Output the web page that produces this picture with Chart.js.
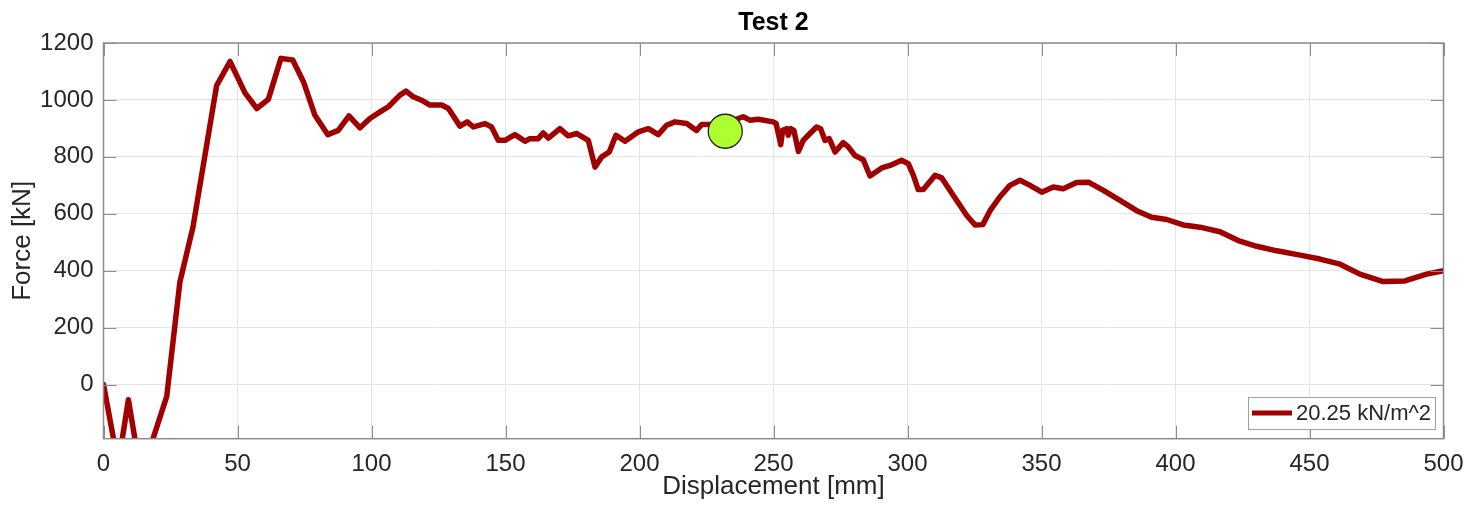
<!DOCTYPE html>
<html>
<head>
<meta charset="utf-8">
<script src="https://cdn.jsdelivr.net/npm/chart.js@4"></script>
<style>
  body { margin: 0; background: #ffffff; }
  #wrap { width: 1470px; height: 513px; }
</style>
</head>
<body>
<div id="wrap"><canvas id="forceChart" width="1470" height="513"></canvas></div>
<script>
// Data
const displacement = [
  0, 5.5, 9.3, 14, 23.6, 28.5, 33.4, 42.2, 47.2, 52.8,
  57.2, 61.5, 66.2, 70.6, 74.6, 78.9, 83.7, 87.6, 91.6, 95.7,
  99.4, 103.2, 106.3, 110.6, 112.9, 115.6, 118.7, 121.8, 126.2, 128.7,
  133, 135.7, 138, 142.4, 144.8, 147.3, 149.8, 153.5, 157.3, 159.1,
  162.2, 164.1, 166, 168.5, 170.3, 173.4, 176.6, 180.9, 183.4, 185.9,
  188.7, 191.2, 194.6, 199.6, 203.3, 207, 210.1, 213.2, 217.6, 221.3,
  223.2, 228, 234, 238.7, 241.2, 244.3, 249.9, 251, 252.7, 253.4,
  254.9, 255.5, 256.4, 257.6, 259.3, 261.1, 263.6, 266.1, 267.6, 269.2,
  270.8, 273, 276, 277.9, 280.4, 283.5, 286, 290.4, 293.5, 297.8,
  300.3, 302.2, 304, 305.9, 310.3, 312.8, 317.1, 322.1, 325.2, 328.1,
  330.8, 334.5, 338.2, 342, 345.7, 350.1, 354.4, 358.1, 363.1, 367.5,
  373.1, 379.3, 385.5, 391.1, 396.7, 402.9, 409.1, 416.6, 423.4, 430.3,
  437.8, 446.5, 453.9, 461.4, 468.8, 477.5, 485.6, 493.7, 500
];
const force = [
  0, -280, -53, -320, -41, 360, 554, 1050, 1135, 1025,
  970, 1002, 1146, 1140, 1064, 946, 878, 893, 944, 902,
  935, 958, 976, 1017, 1031, 1011, 999, 982, 982, 970,
  908, 923, 905, 917, 905, 858, 858, 878, 855, 864,
  864, 884, 866, 885, 899, 874, 882, 858, 764, 800,
  817, 876, 855, 888, 899, 878, 911, 923, 917, 893,
  914, 915, 925, 941, 929, 932, 923, 917, 843, 893,
  899, 876, 899, 893, 819, 858, 882, 905, 899, 858,
  864, 817, 850, 835, 805, 790, 733, 761, 770, 788,
  776, 735, 685, 685, 735, 726, 664, 594, 561, 562,
  611, 660, 700, 718, 700, 676, 694, 688, 710, 711,
  682, 647, 611, 588, 580, 561, 553, 537, 506, 486,
  470, 455, 441, 423, 388, 362, 364, 388, 400
];
const markerX = [232];
const markerY = [890];
const xTicks = [0, 50, 100, 150, 200, 250, 300, 350, 400, 450, 500];
const yTicks = [0, 200, 400, 600, 800, 1000, 1200];
const seriesLabel = '20.25 kN/m^2';

const textColor = '#262626';
const axisColor = '#8c8c8c';
const lineColor = '#a00000';

// titles, box, inner tick marks and legend (MATLAB style)
const decorPlugin = {
  id: 'decor',
  afterDraw(chart) {
    const ctx = chart.ctx;
    const a = chart.chartArea;
    const xs = chart.scales.x, ys = chart.scales.y;
    ctx.save();

    // inner tick marks
    ctx.strokeStyle = axisColor;
    ctx.lineWidth = 1;
    ctx.beginPath();
    xTicks.forEach(v => {
      const px = Math.round(xs.getPixelForValue(v)) + 0.5;
      ctx.moveTo(px, a.bottom); ctx.lineTo(px, a.bottom - 13);
      ctx.moveTo(px, a.top); ctx.lineTo(px, a.top + 13);
    });
    yTicks.forEach(v => {
      const py = Math.round(ys.getPixelForValue(v)) + 0.5;
      ctx.moveTo(a.left, py); ctx.lineTo(a.left + 13, py);
      ctx.moveTo(a.right, py); ctx.lineTo(a.right - 13, py);
    });
    ctx.stroke();

    // box
    ctx.lineWidth = 1.5;
    ctx.strokeRect(a.left, a.top, a.right - a.left, a.bottom - a.top);

    // title
    ctx.fillStyle = '#000000';
    ctx.font = 'bold 25px "Liberation Sans", Arial, sans-serif';
    ctx.textAlign = 'center';
    ctx.textBaseline = 'middle';
    ctx.fillText('Test 2', (a.left + a.right) / 2, 23);

    // axis titles
    ctx.fillStyle = textColor;
    ctx.font = '26px "Liberation Sans", Arial, sans-serif';
    ctx.fillText('Displacement [mm]', (a.left + a.right) / 2, 487);
    ctx.save();
    ctx.translate(23, (a.top + a.bottom) / 2);
    ctx.rotate(-Math.PI / 2);
    ctx.fillText('Force [kN]', 0, 0);
    ctx.restore();

    // legend
    const lx = 1248, ly = 397, lw = 187, lh = 32;
    ctx.fillStyle = '#ffffff';
    ctx.fillRect(lx, ly, lw, lh);
    ctx.strokeStyle = '#a0a0a0';
    ctx.lineWidth = 1;
    ctx.strokeRect(lx + 0.5, ly + 0.5, lw, lh);
    ctx.strokeStyle = lineColor;
    ctx.lineWidth = 5;
    ctx.beginPath();
    ctx.moveTo(lx + 4, ly + 16);
    ctx.lineTo(lx + 44, ly + 16);
    ctx.stroke();
    ctx.fillStyle = textColor;
    ctx.font = '22px "Liberation Sans", Arial, sans-serif';
    ctx.textAlign = 'left';
    ctx.fillText(seriesLabel, lx + 48, ly + 17);

    ctx.restore();
  }
};

const curve = displacement.map((d, i) => ({ x: d, y: force[i] }));
const marker = markerX.map((d, i) => ({ x: d, y: markerY[i] }));

new Chart(document.getElementById('forceChart'), {
  type: 'scatter',
  data: {
    datasets: [
      {
        label: 'marker',
        data: marker,
        pointRadius: 17,
        pointHoverRadius: 17,
        backgroundColor: '#adff2f',
        borderColor: '#222222',
        borderWidth: 1.3
      },
      {
        label: seriesLabel,
        data: curve,
        showLine: true,
        borderColor: lineColor,
        borderWidth: 5.5,
        borderJoinStyle: 'round',
        borderCapStyle: 'round',
        pointRadius: 0,
        tension: 0
      }
    ]
  },
  options: {
    responsive: false,
    animation: false,
    devicePixelRatio: 1,
    layout: { padding: { left: 0, top: 43, right: 26.5, bottom: 0 } },
    plugins: {
      legend: { display: false },
      title: { display: false },
      tooltip: { enabled: false }
    },
    scales: {
      x: {
        type: 'linear',
        min: 0,
        max: 500,
        afterFit: s => { s.height = 74.3; s.paddingLeft = 0; s.paddingRight = 0; },
        afterBuildTicks: s => { s.ticks = xTicks.map(v => ({ value: v })); },
        grid: { color: '#e4e4e4', drawTicks: false },
        border: { display: false },
        ticks: {
          padding: 11,
          maxRotation: 0,
          autoSkip: false,
          color: textColor,
          callback: v => String(v),
          font: { family: '"Liberation Sans", Arial, sans-serif', size: 24 }
        }
      },
      y: {
        type: 'linear',
        min: -190,
        max: 1200,
        afterFit: s => { s.width = 103.5; s.paddingTop = 0; s.paddingBottom = 0; },
        afterBuildTicks: s => { s.ticks = yTicks.map(v => ({ value: v })); },
        grid: { color: '#e4e4e4', drawTicks: false },
        border: { display: false },
        ticks: {
          padding: 10,
          autoSkip: false,
          color: textColor,
          callback: v => String(v),
          font: { family: '"Liberation Sans", Arial, sans-serif', size: 24 }
        }
      }
    }
  },
  plugins: [decorPlugin]
});
</script>
</body>
</html>
